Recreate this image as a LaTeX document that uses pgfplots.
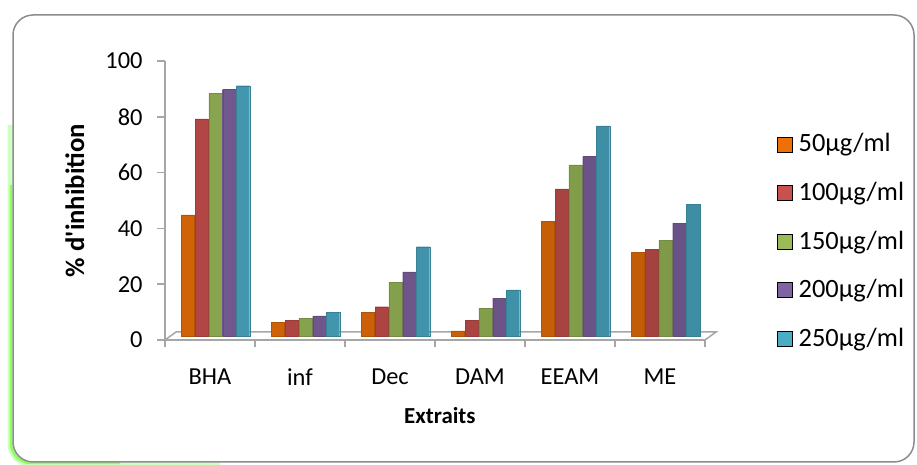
\documentclass[border=0pt]{standalone}
\usepackage{fontspec}
\setmainfont{Carlito}
\newfontfamily\plaincl{Carlito}
\usepackage{pgfplots}
\pgfplotsset{compat=1.18}
\definecolor{cOr}{HTML}{EE7008}
\definecolor{cRe}{HTML}{C9504D}
\definecolor{cGr}{HTML}{9BBB59}
\definecolor{cPu}{HTML}{8064A2}
\definecolor{cCy}{HTML}{4BACC6}
\definecolor{axgray}{HTML}{A6A6A6}
\tikzset{cyl/.style={left color=#1!88!black, middle color=#1!88!white, right color=#1!82!black, draw=#1!75!black, line width=0.4bp}}
\begin{document}
\fontsize{22pt}{26pt}\selectfont
\begin{tikzpicture}
\useasboundingbox (0,0) rectangle (917bp,465bp);
% frame with green glow
\draw[green!70!lime, line width=5bp, opacity=0.25, rounded corners=22bp] (10bp,340bp) -- (10bp,0bp) -- (220bp,0bp);
\draw[green!60!lime, line width=2.5bp, opacity=0.5, rounded corners=20bp] (11bp,280bp) -- (11bp,2bp) -- (120bp,2bp);
\draw[gray!90, line width=1.5bp, rounded corners=20bp, fill=white] (13bp,3bp) rectangle (914bp,450bp);
\begin{axis}[
  at={(165bp,125bp)}, anchor=south west,
  scale only axis, width=540bp, height=279bp,
  ybar, bar width=13.2bp,
  xmin=-0.5, xmax=5.5, ymin=0, ymax=100,
  axis x line=bottom, axis y line=left,
  axis line style={axgray, line width=1.5bp, -},
  xtick={0,1,2,3,4,5},
  xticklabels={BHA,inf,Dec,DAM,EEAM,ME},
  minor xtick={-0.5,0.5,1.5,2.5,3.5,4.5,5.5},
  ytick={0,20,40,60,80,100},
  tick align=outside,
  major x tick style={draw=none},
  minor tick length=7bp,
  major tick length=8bp,
  every tick/.style={axgray, line width=1.5bp},
  /pgf/number format/assume math mode=true,
  ticklabel style={font=\fontsize{24.5pt}{28pt}\selectfont},
  xticklabel style={yshift=-13bp},
  yticklabel style={xshift=-7bp},
  ylabel={\plaincl\bfseries \% d'inhibition},
  xlabel={\bfseries Extraits},
  every axis y label/.style={at={(axis description cs:-0.167,0.5)}, rotate=90, anchor=center, font=\fontsize{26.8pt}{30pt}\selectfont},
  every axis x label/.style={at={(axis description cs:0.509,-0.272)}, anchor=center, font=\fontsize{23pt}{26pt}\selectfont},
  clip=false,
  legend style={at={(1.128,0.755)}, anchor=north west, draw=none, fill=none,
    font=\fontsize{26.5pt}{30pt}\selectfont, row sep=23bp, cells={anchor=west}},
  legend cell align=left,
]
% floor
\draw[axgray, line width=1.5bp] (axis cs:-0.5,0) -- ++(11bp,8bp) -- ([xshift=11bp,yshift=8bp]axis cs:5.5,0) -- (axis cs:5.5,0);
\addplot[cyl=cOr, forget plot, bar shift=-22.1bp, yshift=4bp] coordinates {(0,43.4) (1,4.8) (2,8.6) (3,1.8) (4,41.2) (5,29.9)};
\addplot[cyl=cRe, forget plot, bar shift=-8.3bp, yshift=4bp] coordinates {(0,77.8) (1,5.5) (2,10.5) (3,5.7) (4,52.7) (5,31.1)};
\addplot[cyl=cGr, forget plot, bar shift=5.5bp, yshift=4bp] coordinates {(0,87.0) (1,6.4) (2,19.3) (3,10.0) (4,61.3) (5,34.4)};
\addplot[cyl=cPu, forget plot, bar shift=19.3bp, yshift=4bp] coordinates {(0,88.5) (1,7.2) (2,23.0) (3,13.6) (4,64.3) (5,40.5)};
\addplot[cyl=cCy, forget plot, bar shift=33.1bp, yshift=4bp] coordinates {(0,89.7) (1,8.4) (2,32.0) (3,16.5) (4,75.3) (5,47.3)};
\pgfplotsset{legend image code/.code={\fill[#1] (0bp,-7.5bp) rectangle (15bp,7.5bp); \path (19bp,0bp);}}
\addlegendimage{fill=cOr}\addlegendentry{50µg/ml}
\addlegendimage{fill=cRe}\addlegendentry{100µg/ml}
\addlegendimage{fill=cGr}\addlegendentry{150µg/ml}
\addlegendimage{fill=cPu}\addlegendentry{200µg/ml}
\addlegendimage{fill=cCy}\addlegendentry{250µg/ml}
\end{axis}
\end{tikzpicture}
\end{document}
